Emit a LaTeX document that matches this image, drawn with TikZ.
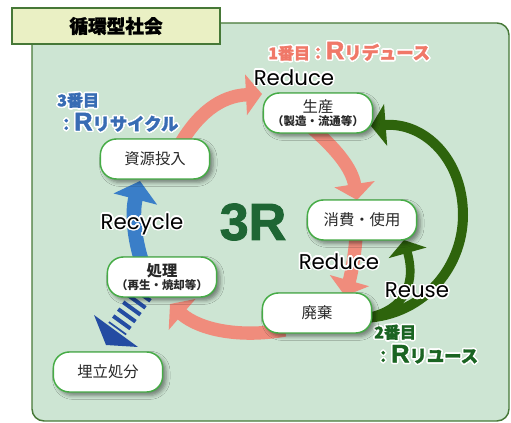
\documentclass[tikz,border=0pt]{standalone}
\usepackage{fontspec}
\newfontfamily\jp{Noto Sans CJK JP}
\newfontfamily\jph{Noto Sans CJK JP}[BoldFeatures={FakeBold=1.6}]
\newfontfamily\lsans{Liberation Sans}
\newfontfamily\lsansh{Liberation Sans}[BoldFeatures={FakeBold=1.8}]
\newfontfamily\popp{Poppins}
\usepackage[copies]{contour}
\contourlength{1.1pt}
\contournumber{24}
\usetikzlibrary{arrows.meta,shadows.blur}
\definecolor{panelfill}{RGB}{205,229,211}
\definecolor{panelborder}{RGB}{70,120,55}
\definecolor{titlefill}{RGB}{234,240,196}
\definecolor{nodeborder}{RGB}{70,172,70}
\definecolor{salmon}{RGB}{240,140,124}
\definecolor{dgreen}{RGB}{46,100,12}
\definecolor{rblue}{RGB}{58,126,200}
\definecolor{dblue}{RGB}{36,76,162}
\definecolor{threeR}{RGB}{30,102,52}
\definecolor{txtgray}{RGB}{40,40,40}
\definecolor{hsalmon}{RGB}{240,120,104}
\definecolor{hblue}{RGB}{56,108,180}
\definecolor{hgreen}{RGB}{26,100,34}
\tikzset{
  pill/.style={draw=nodeborder, line width=1.1pt, fill=white, rounded corners=12pt,
    minimum width=82pt, minimum height=30pt, align=center, inner sep=1pt,
    font=\jp\fontsize{11.5}{13}\selectfont, text=txtgray,
    blur shadow={shadow xshift=2.5pt, shadow yshift=-2.5pt, shadow opacity=45, shadow blur radius=3pt}},
  titlebox/.style={draw=panelborder, line width=1.1pt, fill=titlefill, minimum width=156pt,
    minimum height=27pt, inner sep=0pt, font=\jph\bfseries\fontsize{14}{16}\selectfont},
  lbl/.style={font=\popp\fontsize{16}{18}\selectfont, text=black, inner sep=0pt},
  sarrow/.style={draw=salmon, line width=10pt, -{Triangle[width=30pt,length=12pt]}},
  garrow/.style={draw=dgreen, line width=7.5pt, -{Triangle[width=31pt,length=11pt]}},
  gsarrow/.style={draw=dgreen, line width=6.5pt, -{Triangle[width=29pt,length=10pt]}},
  barrow/.style={draw=rblue, line width=11pt, -{Triangle[width=33pt,length=14pt]}},
  head/.style={inner sep=0pt, anchor=west, font=\jph\bfseries}
}
\newcommand{\subt}[1]{{\fontsize{8.6}{10}\selectfont\bfseries #1}}
\newcommand{\bigR}{{\lsansh\bfseries\fontsize{19}{20}\selectfont R}}
\begin{document}
\begin{tikzpicture}[x=0.75pt,y=-0.75pt]
\useasboundingbox (0,0) rectangle (511,423);
% panel
\draw[panelborder, fill=panelfill, line width=1.1pt, rounded corners=9pt] (32,23) rectangle (509,421);
\node[titlebox] (title) at (116,26) {循環型社会};

% salmon arrows
\draw[sarrow] (178,148) .. controls (197,114) and (220,96) .. (262,94);
\draw[sarrow] (312,128) .. controls (335,148) and (352,168) .. (357,200);
\draw[sarrow] (356,236) .. controls (355,255) and (351,275) .. (345,296);
\draw[sarrow] (285,330) .. controls (240,338) and (200,330) .. (170,304);

% green arrows
\draw[garrow] (360,318) .. controls (420,318) and (463,270) .. (463,215) .. controls (463,160) and (425,122) .. (371,126);
\draw[gsarrow] (362,318) .. controls (398,314) and (418,290) .. (404,240);

% blue recycle arrow
\draw[barrow] (142,262) .. controls (134,238) and (132,212) .. (140,181);

% dark blue striped arrow
\draw[dblue, line width=16pt, dash pattern=on 3pt off 3.4pt] (143,293) -- (117,329);
\fill[dblue] (94,315) -- (138,347) -- (106,345) -- cycle;

% labels
\node[lbl] (reduce1) at (294,78) {\contour{white}{Reduce}};
\node[lbl] (recycle) at (142,225) {\contour{white}{Recycle}};
\node[lbl] (reduce2) at (339,262) {\contour{white}{Reduce}};
\node[lbl] (reuse) at (417,291) {\contour{white}{Reuse}};
\node[inner sep=0pt, text=threeR, font=\lsansh\bfseries\fontsize{39}{40}\selectfont] (r3) at (253,222) {3R};

% headings
\node[head, text=hsalmon] (h1) at (268,52) {\contour{white}{\fontsize{12}{14}\selectfont 1番目：\bigR{\fontsize{13}{14}\selectfont リデュース}}};
\node[head, text=hblue] (h3a) at (57,101) {\contour{white}{\fontsize{12}{14}\selectfont 3番目}};
\node[head, text=hblue] (h3b) at (58,123) {\contour{white}{\fontsize{12}{14}\selectfont ：\bigR{\fontsize{13}{14}\selectfont リサイクル}}};
\node[head, text=hgreen] (h2a) at (374,333) {\contour{white}{\fontsize{12}{14}\selectfont 2番目}};
\node[head, text=hgreen] (h2b) at (375,355) {\contour{white}{\fontsize{12}{14}\selectfont ：\bigR{\fontsize{13}{14}\selectfont リユース}}};

% nodes
\node[pill] (seisan) at (318,113) {生産\\[-3pt]\subt{（製造・流通等）}};
\node[pill] (shigen) at (155,159) {資源投入};
\node[pill] (shohi) at (362,220) {消費・使用};
\node[pill] (haiki) at (317,313) {廃棄};
\node[pill] (shori) at (162,277) {\bfseries 処理\\[-3pt]\subt{（再生・焼却等）}};
\node[pill] (umetate) at (108,372) {埋立処分};
\end{tikzpicture}
\end{document}
